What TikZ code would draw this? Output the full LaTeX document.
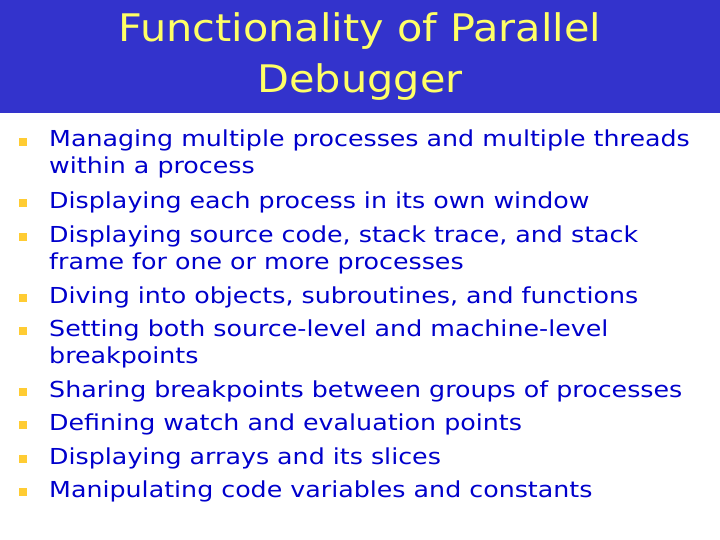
\documentclass[tikz,border=0pt]{standalone}
\usepackage{fontspec}
\setmainfont{DejaVu Sans}
\newfontfamily\itemfont[FakeStretch=1.15]{DejaVu Sans}
\newfontfamily\titlefont[FakeStretch=1.09]{DejaVu Sans}
\definecolor{barblue}{HTML}{3333CC}
\definecolor{titleyel}{HTML}{FFFF66}
\definecolor{txtblue}{HTML}{0000CC}
\definecolor{bulyel}{HTML}{FFCC33}
\tikzset{
  item/.style={anchor=base west,inner sep=0pt,text=txtblue,font=\itemfont\fontsize{22}{27}\selectfont},
  bul/.style={fill=bulyel,minimum size=8pt,inner sep=0pt},
  ttl/.style={anchor=base,inner sep=0pt,text=titleyel,font=\titlefont\fontsize{38}{46}\selectfont}
}
\begin{document}
\begin{tikzpicture}[x=1pt,y=-1pt]
\useasboundingbox (0,0) rectangle (720,540);
\fill[white] (0,0) rectangle (720,540);
\fill[barblue] (0,0) rectangle (720,113);
\node[ttl] (t1) at (360,42) {Functionality of Parallel};
\node[ttl] (t2) at (360,93) {Debugger};
\foreach \y/\t/\n in {147/{Managing multiple processes and multiple threads}/a,
 174/{within a process}/a2,
 208/{Displaying each process in its own window}/b,
 242/{Displaying source code, stack trace, and stack}/c,
 269/{frame for one or more processes}/c2,
 303/{Diving into objects, subroutines, and functions}/d,
 336/{Setting both source-level and machine-level}/e,
 363/{breakpoints}/e2,
 397/{Sharing breakpoints between groups of processes}/f,
 430/{Defining watch and evaluation points}/g,
 464/{Displaying arrays and its slices}/h,
 497/{Manipulating code variables and constants}/i}
  \node[item] (\n) at (49,\y) {\t};
\foreach \y/\n in {147/ba,208/bb,242/bc,303/bd,336/be,397/bf,430/bg,464/bh,497/bi}
  \node[bul] (\n) at (23,\y-5) {};
\end{tikzpicture}
\end{document}
